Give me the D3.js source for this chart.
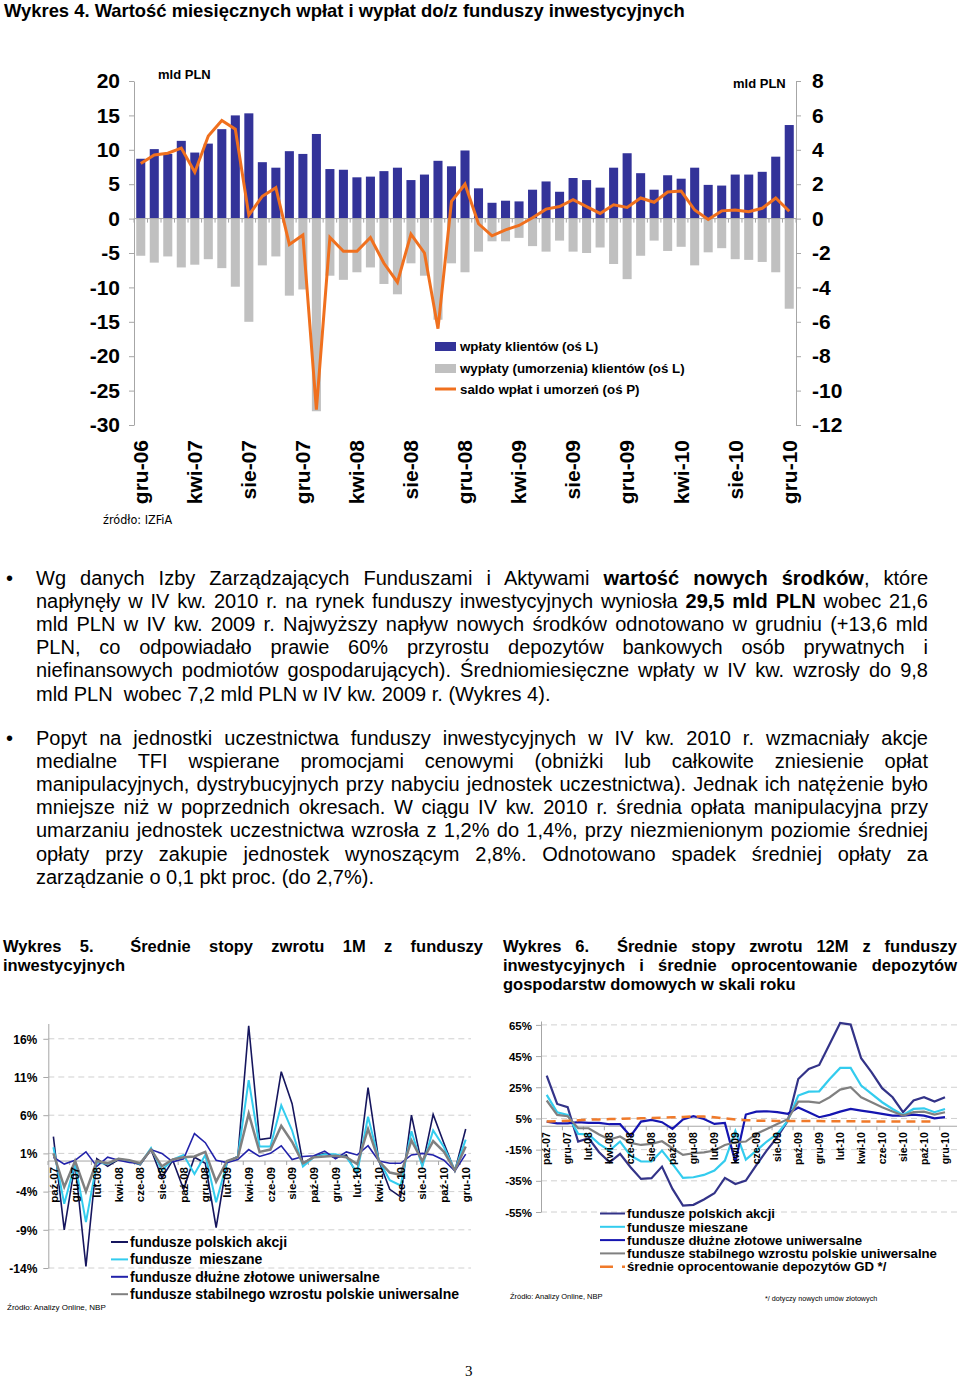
<!DOCTYPE html>
<html><head><meta charset="utf-8">
<script src="https://cdn.jsdelivr.net/npm/d3@7"></script>
<style>
body{margin:0;background:#fff;}
#page{position:relative;width:960px;height:1380px;overflow:hidden;font-family:Arial,"Liberation Sans",Helvetica,sans-serif;color:#000;}
#page svg{position:absolute;left:0;top:0;}
.ln{position:absolute;white-space:pre;}
</style></head><body><div id="page"></div>
<script>
// ---------------- DATA ----------------
const MON = ["sty","lut","mar","kwi","maj","cze","lip","sie","wrz","paź","lis","gru"];
function monthSeq(startIdx, startYear, n){const out=[];for(let k=0;k<n;k++){const mi=(startIdx+k)%12;const yr=startYear+Math.floor((startIdx+k)/12);out.push(MON[mi]+"-"+String(yr%100).padStart(2,"0"));}return out;}

// Wykres 4 (gru-06 .. gru-10)
const months4 = monthSeq(11, 2006, 49);
const ticks4 = ["gru-06","kwi-07","sie-07","gru-07","kwi-08","sie-08","gru-08","kwi-09","sie-09","gru-09","kwi-10","sie-10","gru-10"];
const inflows = [8.7,10.1,9.4,11.3,9.6,10.9,13.0,15.0,15.3,8.2,
  7.4,9.8,9.4,12.3,7.2,7.1,6.0,6.1,6.9,7.4,
  5.6,6.4,8.4,7.6,9.9,4.4,2.3,2.6,2.5,4.2,
  5.4,3.9,5.9,5.6,4.5,7.4,9.5,6.6,4.2,6.3,
  5.8,7.4,4.9,4.8,6.4,6.4,6.8,9.0,13.6];
const outflows = [-5.4,-6.4,-5.5,-7.1,-6.7,-5.9,-7.2,-9.9,-15.0,-6.8,
  -5.5,-11.2,-10.3,-28.0,-8.3,-8.9,-7.8,-7.1,-9.5,-11.0,
  -6.5,-8.3,-14.7,-6.5,-7.8,-4.8,-3.3,-3.3,-2.8,-4.0,
  -4.8,-3.2,-4.8,-5.0,-4.2,-6.6,-8.8,-5.4,-3.2,-4.7,
  -4.1,-6.8,-4.9,-4.3,-5.9,-6.0,-6.3,-7.8,-13.1];
const saldo = [3.2,3.7,3.8,4.1,2.7,4.8,5.7,5.2,0.2,1.3,
  1.8,-1.5,-0.95,-11.1,-1.1,-1.9,-1.9,-1.1,-2.6,-3.7,
  -0.9,-2.0,-6.4,1.0,2.0,-0.3,-1.0,-0.65,-0.4,0.05,
  0.55,0.7,1.1,0.7,0.3,0.8,0.65,1.2,0.95,1.55,
  1.6,0.5,-0.05,0.45,0.5,0.4,0.6,1.2,0.43];
const ticksL4 = [20,15,10,5,0,-5,-10,-15,-20,-25,-30];
const ticksR4 = [8,6,4,2,0,-2,-4,-6,-8,-10,-12];

// Wykres 5 & 6 (paź-07 .. gru-10)
const months56 = monthSeq(9, 2007, 39);
const ticks56 = ["paź-07","gru-07","lut-08","kwi-08","cze-08","sie-08","paź-08","gru-08","lut-09","kwi-09","cze-09","sie-09","paź-09","gru-09","lut-10","kwi-10","cze-10","sie-10","paź-10","gru-10"];
const akcje1M = [3.2,-9.0,-0.3,-13.8,0.3,-0.7,0.2,0.0,-0.5,1.5,-2.2,0.1,-3.7,0.5,-0.3,-8.7,-0.1,0.6,17.7,2.8,3.0,11.7,7.5,-0.3,0.6,1.0,0.4,0.8,-1.8,9.6,0.0,-3.7,-4.7,6.0,-0.7,6.1,2.3,-1.3,4.2];
const mieszane1M = [1.8,-5.6,-0.3,-8.0,-0.2,-0.4,0.3,0.0,-0.4,1.7,-1.2,0.2,0.8,-1.7,0.8,-5.4,-0.2,0.6,10.6,1.9,1.9,7.3,4.0,-0.7,0.5,0.9,0.9,0.5,-1.5,5.8,0.1,-2.5,-3.2,3.9,-0.7,4.0,1.8,-1.2,2.8];
const dluzne1M = [0.5,-0.4,0.1,1.2,-0.7,0.5,0.1,-0.2,-0.3,1.5,1.0,-0.1,0.3,3.6,2.4,0.1,-0.2,0.2,1.5,0.6,1.0,2.0,0.2,0.6,0.7,1.3,0.3,1.2,0.8,2.0,0.0,-0.3,-0.3,0.8,1.0,0.8,0.1,-1.3,0.9];
const stabilne1M = [1.0,-3.4,0.0,-4.0,0.0,-0.3,0.3,0.1,-0.3,1.5,-0.7,0.2,0.5,0.6,1.2,-2.7,0.0,0.5,6.2,1.2,1.5,4.6,2.5,-0.3,0.5,0.6,0.7,0.5,-0.4,4.2,0.0,-1.5,-1.8,2.7,0.0,2.6,1.2,-1.2,1.9];
const ticksY5 = [16,11,6,1,-4,-9,-14];

const akcje12M = [32.5,14.3,12.2,-9.8,-7.7,-16.7,-23.1,-17.7,-26.3,-33.8,-33.3,-25.9,-40.2,-50.9,-50.4,-47.0,-43.0,-33.1,-37.0,-34.8,-25.0,-15.5,-7.0,3.5,30.3,36.8,39.3,52.8,66.2,65.2,43.6,34.6,24.4,18.6,9.0,16.5,18.6,15.8,18.6];
const mieszane12M = [20.1,9.0,7.3,-4.9,-5.3,-11.3,-15.6,-9.8,-18.8,-22.6,-22.6,-15.6,-24.1,-33.1,-32.7,-31.2,-28.4,-22.0,-3.0,-21.4,-15.6,-9.8,-4.9,3.5,19.7,22.2,22.4,30.3,37.4,37.4,26.1,20.7,15.4,11.1,7.3,11.1,11.5,9.0,11.1];
const dluzne12M = [3.0,1.9,1.9,2.6,2.1,2.1,1.3,1.3,-6.4,3.0,4.1,2.6,-1.7,4.3,6.4,4.7,1.5,2.1,-23.0,7.5,9.4,9.6,9.0,8.0,12.0,9.0,5.8,7.3,9.4,11.1,10.0,9.0,7.9,6.8,6.8,7.5,6.8,5.1,5.8];
const stabilne12M = [16.5,7.3,6.4,-1.3,-1.3,-5.3,-8.5,-6.6,-10.7,-12.0,-11.3,-9.6,-14.1,-18.4,-17.3,-16.7,-15.6,-12.0,-10.3,-9.8,-4.9,-1.7,1.5,4.5,15.8,15.8,15.0,18.6,23.5,25.0,18.6,15.4,12.2,9.4,6.8,9.0,9.4,7.5,9.0];
const depozyty = [3.0,3.2,3.5,3.8,4.2,4.4,4.6,4.8,4.9,5.1,5.3,5.5,5.7,6.0,6.3,6.2,5.8,5.0,4.3,3.9,3.6,3.5,3.4,3.4,3.4,3.3,3.3,3.2,3.2,3.2,3.1,3.1,3.1,3.0,3.0,3.0,3.0,3.0];
const ticksY6 = [65,45,25,5,-15,-35,-55];

// ---------------- SETUP ----------------
const FONT = "Arial, 'Liberation Sans', Helvetica, sans-serif";
const NARROW = "'Liberation Sans Narrow','Arial Narrow','DejaVu Sans Condensed',sans-serif";
const page = d3.select("#page");
const svg = page.append("svg").attr("width",960).attr("height",1380).style("font-family",FONT);

function txt(x,y,s,size,opts={}){
  const t = svg.append("text").attr("x",x).attr("y",y).attr("font-size",size).text(s);
  if(opts.bold) t.attr("font-weight","bold");
  if(opts.anchor) t.attr("text-anchor",opts.anchor);
  if(opts.family) t.attr("font-family",opts.family);
  if(opts.fill) t.attr("fill",opts.fill);
  t.style("white-space","pre");
  return t;
}

// ---------------- WYKRES 4 ----------------
txt(4,17,"Wykres 4. Wartość miesięcznych wpłat i wypłat do/z funduszy inwestycyjnych",18.4,{bold:true});

const x4 = d3.scaleBand().domain(months4).range([134,796]).paddingInner(0.33).paddingOuter(0.165);
const yL = d3.scaleLinear().domain([-30,20]).range([425,81]);
const yR = d3.scaleLinear().domain([-12,8]).range([425,81]);
const g4 = svg.append("g");

g4.selectAll("rect.in").data(inflows).join("rect").attr("class","in")
  .attr("x",(d,i)=>x4(months4[i])).attr("width",x4.bandwidth())
  .attr("y",d=>yL(d)).attr("height",d=>yL(0)-yL(d)).attr("fill","#333399");
g4.selectAll("rect.out").data(outflows).join("rect").attr("class","out")
  .attr("x",(d,i)=>x4(months4[i])).attr("width",x4.bandwidth())
  .attr("y",yL(0)).attr("height",d=>yL(d)-yL(0)).attr("fill","#C0C0C0");

// category axis on zero
g4.append("line").attr("x1",134).attr("x2",796).attr("y1",yL(0)).attr("y2",yL(0)).attr("stroke","#A6A6A6").attr("stroke-width",1);
g4.selectAll("line.ct").data(d3.range(months4.length+1)).join("line").attr("class","ct")
  .attr("x1",i=>134+i*x4.step()).attr("x2",i=>134+i*x4.step())
  .attr("y1",yL(0)).attr("y2",yL(0)+4).attr("stroke","#A6A6A6");

const axL = g4.append("g").attr("transform","translate(134,0)")
  .call(d3.axisLeft(yL).tickValues(ticksL4).tickSize(5).tickSizeOuter(0).tickPadding(9).tickFormat(d3.format("d")));
const axR = g4.append("g").attr("transform","translate(796,0)")
  .call(d3.axisRight(yR).tickValues(ticksR4).tickSize(5).tickSizeOuter(0).tickPadding(11).tickFormat(d3.format("d")));
[axL,axR].forEach(a=>{
  a.select(".domain").attr("stroke","#A6A6A6");
  a.selectAll(".tick line").attr("stroke","#A6A6A6");
  a.selectAll(".tick text").attr("font-size",21).attr("font-weight","bold").attr("fill","#000").attr("font-family",FONT);
});
axL.selectAll(".tick text").text(d=>d<0?"-"+Math.abs(d):d);
axR.selectAll(".tick text").text(d=>d<0?"-"+Math.abs(d):d);

const line4 = d3.line().x((d,i)=>x4(months4[i])+x4.bandwidth()/2).y(d=>yR(d));
g4.append("path").datum(saldo).attr("d",line4).attr("fill","none").attr("stroke","#F0701E").attr("stroke-width",3);

g4.selectAll("text.xl").data(ticks4).join("text").attr("class","xl")
  .attr("transform",d=>`translate(${x4(d)+x4.bandwidth()/2},440) rotate(-90)`)
  .attr("text-anchor","end").attr("dy","0.35em").attr("font-size",21).attr("font-weight","bold").text(d=>d);

txt(158,79,"mld PLN",13,{bold:true});
txt(733,88,"mld PLN",13,{bold:true});
txt(103,524,"źródło: IZFiA",12.5,{family:NARROW});

// legend
g4.append("rect").attr("x",435).attr("y",342).attr("width",21).attr("height",9).attr("fill","#333399");
g4.append("rect").attr("x",435).attr("y",364).attr("width",21).attr("height",9).attr("fill","#C0C0C0");
g4.append("line").attr("x1",435).attr("x2",456).attr("y1",389).attr("y2",389).attr("stroke","#F0701E").attr("stroke-width",3);
txt(460,351,"wpłaty klientów (oś L)",13.3,{bold:true});
txt(460,373,"wypłaty (umorzenia) klientów (oś L)",13.3,{bold:true});
txt(460,394,"saldo wpłat i umorzeń (oś P)",13.3,{bold:true});

// ---------------- TEXT ----------------
function justLine(x, yc, width, str, size, lh, justify, baseBold){
  const div = page.append("div").attr("class","ln")
    .style("left",x+"px").style("top",(yc-lh/2)+"px")
    .style("font-size",size+"px").style("line-height",lh+"px");
  const parts = str.split("**");
  parts.forEach((p,k)=>{ if(p.length) div.append("span").style("font-weight",(baseBold || k%2===1)?"bold":"normal").text(p); });
  if(justify){
    const w = div.node().getBoundingClientRect().width;
    const nSp = (str.replace(/\*\*/g,"").match(/ /g)||[]).length;
    if(nSp>0) div.style("word-spacing",((width-w)/nSp)+"px");
  }
  return div;
}
const para1 = [
  "Wg danych Izby Zarządzających Funduszami i Aktywami **wartość nowych środków**, które",
  "napłynęły w IV kw. 2010 r. na rynek funduszy inwestycyjnych wyniosła **29,5 mld PLN** wobec 21,6",
  "mld PLN w IV kw. 2009 r. Najwyższy napływ nowych środków odnotowano w grudniu (+13,6 mld",
  "PLN, co odpowiadało prawie 60% przyrostu depozytów bankowych osób prywatnych i",
  "niefinansowych podmiotów gospodarujących). Średniomiesięczne wpłaty w IV kw. wzrosły do 9,8",
  "mld PLN  wobec 7,2 mld PLN w IV kw. 2009 r. (Wykres 4)."
];
const para2 = [
  "Popyt na jednostki uczestnictwa funduszy inwestycyjnych w IV kw. 2010 r. wzmacniały akcje",
  "medialne TFI wspierane promocjami cenowymi (obniżki lub całkowite zniesienie opłat",
  "manipulacyjnych, dystrybucyjnych przy nabyciu jednostek uczestnictwa). Jednak ich natężenie było",
  "mniejsze niż w poprzednich okresach. W ciągu IV kw. 2010 r. średnia opłata manipulacyjna przy",
  "umarzaniu jednostek uczestnictwa wzrosła z 1,2% do 1,4%, przy niezmienionym poziomie średniej",
  "opłaty przy zakupie jednostek wynoszącym 2,8%. Odnotowano spadek średniej opłaty za",
  "zarządzanie o 0,1 pkt proc. (do 2,7%)."
];
para1.forEach((s,i)=>justLine(36,578+i*23.2,892,s,20,23,i<para1.length-1,false));
para2.forEach((s,i)=>justLine(36,738+i*23.2,892,s,20,23,i<para2.length-1,false));
txt(6,585,"•",20); txt(6,745,"•",20);

// chart titles
justLine(3,946,480,"Wykres 5.  Średnie stopy zwrotu 1M z funduszy",16.5,19,true,true);
justLine(3,965,480,"inwestycyjnych",16.5,19,false,true);
justLine(503,946,454,"Wykres 6.  Średnie stopy zwrotu 12M z funduszy",16.5,19,true,true);
justLine(503,965,454,"inwestycyjnych i średnie oprocentowanie depozytów",16.5,19,true,true);
justLine(503,984,454,"gospodarstw domowych w skali roku",16.5,19,false,true);

// ---------------- generic line chart ----------------
function lineChart(cfg){
  const g = svg.append("g");
  const x = d3.scalePoint().domain(months56).range(cfg.xr);
  const y = d3.scaleLinear().domain(cfg.yd).range(cfg.yr);
  // grid
  g.selectAll("line.gr").data(cfg.yt).join("line").attr("class","gr")
    .attr("x1",cfg.ax).attr("x2",cfg.right).attr("y1",d=>y(d)).attr("y2",d=>y(d))
    .attr("stroke","#D0D0D0").attr("stroke-dasharray","6,4");
  // zero line
  g.append("line").attr("x1",cfg.ax).attr("x2",cfg.right).attr("y1",y(0)).attr("y2",y(0)).attr("stroke","#A6A6A6");
  const step = x.step();
  g.selectAll("line.xt").data(cfg.xt).join("line").attr("class","xt")
    .attr("x1",d=>x(d)-step/2).attr("x2",d=>x(d)-step/2).attr("y1",y(0)).attr("y2",y(0)+4).attr("stroke","#A6A6A6");
  // y axis
  const ay = g.append("g").attr("transform",`translate(${cfg.ax},0)`)
    .call(d3.axisLeft(y).tickValues(cfg.yt).tickSize(5).tickSizeOuter(0).tickPadding(cfg.pad).tickFormat(d=>(d<0?"-"+Math.abs(d):d)+"%"));
  ay.select(".domain").attr("stroke","#A6A6A6");
  ay.selectAll(".tick line").attr("stroke","#A6A6A6");
  ay.selectAll(".tick text").attr("font-size",cfg.yfs).attr("font-weight","bold").attr("fill","#000").attr("font-family",FONT).attr("dy","0.36em");
  // series
  cfg.series.forEach(s=>{
    const ln = d3.line().x((d,i)=>x(months56[i])).y(d=>y(d));
    const p = g.append("path").datum(s.data).attr("d",ln).attr("fill","none")
      .attr("stroke",s.color).attr("stroke-width",s.w).attr("stroke-linejoin","miter");
    if(s.dash) p.attr("stroke-dasharray",s.dash);
  });
  // x labels
  g.selectAll("text.xl").data(cfg.xt).join("text").attr("class","xl")
    .attr("transform",d=>`translate(${x(d)},${y(0)+6}) rotate(-90)`)
    .attr("text-anchor","end").attr("dy","0.36em").attr("font-size",cfg.xfs).attr("font-weight","bold").text(d=>d);
  // legend
  cfg.series.forEach((s,i)=>{
    const yy = cfg.leg.y0 + i*cfg.leg.dy;
    const l = g.append("line").attr("x1",cfg.leg.x1).attr("x2",cfg.leg.x2).attr("y1",yy).attr("y2",yy)
      .attr("stroke",s.color).attr("stroke-width",s.dash?2.5:2);
    if(s.dash) l.attr("stroke-dasharray","13,9");
    txt(cfg.leg.tx,yy+cfg.leg.fs*0.36,s.name,cfg.leg.fs,{bold:true});
  });
}

lineChart({
  xr:[53.4,465.7], yd:[-14,18], yr:[1268,1023.5], ax:48.3, right:471, pad:6, yfs:12, xfs:11.5,
  yt:ticksY5, xt:ticks56,
  series:[
    {name:"fundusze polskich akcji",data:akcje1M,color:"#16165E",w:1.6},
    {name:"fundusze  mieszane",data:mieszane1M,color:"#33CCEE",w:2},
    {name:"fundusze dłużne złotowe uniwersalne",data:dluzne1M,color:"#2222AA",w:1.6},
    {name:"fundusze stabilnego wzrostu polskie uniwersalne",data:stabilne1M,color:"#808080",w:2.5}
  ],
  leg:{x1:111,x2:128,tx:130,y0:1242,dy:17.4,fs:14}
});

lineChart({
  xr:[546.7,945], yd:[-55,67.5], yr:[1212,1021], ax:541, right:957, pad:4, yfs:11.5, xfs:10.5,
  yt:ticksY6, xt:ticks56,
  series:[
    {name:"fundusze polskich akcji",data:akcje12M,color:"#333388",w:2.2},
    {name:"fundusze mieszane",data:mieszane12M,color:"#33CCEE",w:2.2},
    {name:"fundusze dłużne złotowe uniwersalne",data:dluzne12M,color:"#1515B0",w:2.2},
    {name:"fundusze stabilnego wzrostu polskie uniwersalne",data:stabilne12M,color:"#808080",w:2.2},
    {name:"średnie oprocentowanie depozytów GD */",data:depozyty,color:"#F07A2A",w:2.5,dash:"9,6"}
  ],
  leg:{x1:600,x2:625,tx:627,y0:1213.5,dy:13.3,fs:13.2}
});

txt(7,1310,"Źródło: Analizy Online, NBP",8);
txt(510,1299,"Źródło: Analizy Online, NBP",7.5);
txt(765,1301,"*/ dotyczy nowych umów złotowych",7.2);
txt(465,1376,"3",15,{family:"'Liberation Serif','Times New Roman',serif"});
</script></body></html>
